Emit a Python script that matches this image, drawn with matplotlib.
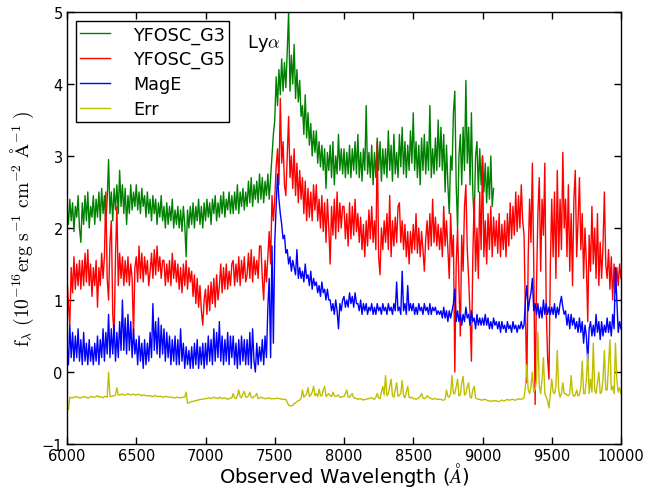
import numpy as np
import matplotlib
matplotlib.use("Agg")
import matplotlib.pyplot as plt

plt.rcParams['mathtext.fontset'] = 'cm'
plt.rcParams['font.family'] = ['DejaVu Sans']

wl_start, wl_step = 6000, 10

# rows: 100 A each (10 samples)
g3 = [
    2.3, 2.05, 2.4, 2.1, 2.35, 1.95, 2.3, 2.15, 2.45, 2.0,
    1.8, 2.35, 2.05, 2.45, 2.1, 2.5, 2.0, 2.3, 2.15, 2.45,
    2.05, 2.4, 2.15, 2.5, 2.1, 2.55, 2.2, 2.45, 2.05, 2.4,
    2.95, 2.2, 2.5, 2.1, 2.55, 2.25, 2.6, 2.2, 2.8, 2.3,
    2.6, 2.2, 2.55, 2.05, 2.45, 2.2, 2.6, 2.25, 2.5, 2.3,
    2.6, 2.25, 2.5, 2.2, 2.55, 2.3, 2.45, 2.15, 2.5, 2.2,
    2.4, 2.1, 2.45, 2.2, 2.4, 2.05, 2.35, 2.15, 2.45, 2.1,
    2.3, 2.0, 2.35, 2.05, 2.3, 2.1, 2.4, 2.0, 2.25, 2.05,
    2.3, 2.0, 2.25, 1.95, 2.3, 2.05, 1.6, 2.25, 2.0, 2.3,
    2.05, 2.35, 2.0, 2.3, 2.1, 2.4, 2.05, 2.3, 2.0, 2.35,
    2.1, 2.4, 2.15, 2.35, 2.05, 2.4, 2.2, 2.45, 2.1, 2.35,
    2.15, 2.45, 2.2, 2.5, 2.15, 2.4, 2.25, 2.5, 2.2, 2.45,
    2.2, 2.5, 2.25, 2.6, 2.2, 2.5, 2.3, 2.55, 2.25, 2.5,
    2.3, 2.65, 2.35, 2.7, 2.3, 2.6, 2.4, 2.65, 2.35, 2.75,
    2.4, 2.7, 2.35, 2.65, 2.45, 2.75, 2.4, 2.7, 3.0, 3.3,
    3.5, 4.1, 3.7, 4.2, 3.85, 4.35, 3.9, 4.3, 3.95, 4.45,
    5.0, 3.9, 4.4, 4.0, 4.55, 3.8, 4.2, 3.75, 4.05, 3.55,
    3.7, 3.3, 3.85, 3.25, 3.6, 3.15, 3.45, 3.0, 3.35, 3.05,
    3.35, 2.9, 3.2, 2.85, 3.15, 2.8, 3.1, 2.55, 3.05, 2.8,
    3.15, 2.7, 3.2, 2.6, 3.0, 2.75, 3.3, 2.8, 3.1, 2.75,
    3.1, 2.7, 3.05, 2.75, 3.15, 2.7, 3.1, 2.8, 3.2, 2.75,
    3.3, 2.7, 3.05, 2.65, 3.1, 2.8, 3.7, 2.75, 3.05, 2.7,
    3.15, 2.6, 3.05, 2.7, 3.25, 2.8, 3.2, 2.65, 3.1, 2.75,
    3.1, 2.7, 3.35, 2.8, 3.15, 2.65, 3.3, 2.75, 3.05, 2.7,
    3.3, 2.85, 3.4, 2.75, 3.2, 2.7, 3.15, 2.8, 3.35, 2.9,
    3.6, 2.8, 3.2, 2.7, 3.15, 2.6, 3.25, 2.8, 3.3, 2.75,
    3.2, 2.8, 3.7, 2.7, 3.1, 2.75, 3.25, 2.8, 3.5, 2.85,
    3.4, 2.8, 3.3, 2.5, 3.15, 2.6, 2.2, 3.0, 2.8, 3.6,
    3.9, 2.6, 2.0, 3.0, 3.3, 2.6, 3.4, 2.8, 4.05, 2.9,
    3.4, 2.6, 3.6, 2.5, 2.1, 3.0, 3.2, 2.5, 3.1, 2.6,
    3.0, 2.5, 2.9, 2.35, 2.85, 2.4, 3.0, 2.3, 2.55,
]

g5 = [
    1.3, 0.95, 0.65, 1.45, 1.1, 1.6, 1.15, 1.5, 1.2, 1.55,
    1.15, 1.55, 1.2, 1.65, 1.25, 1.7, 1.2, 1.5, 1.05, 1.45,
    1.2, 1.55, 0.9, 1.45, 1.2, 1.65, 1.3, 1.6, 2.5, 1.3,
    1.0, 1.8, 2.1, 0.8, 0.5, 1.6, 2.3, 1.2, 1.65, 1.3,
    1.6, 1.2, 1.55, 1.25, 1.6, 1.2, 1.5, 1.3, 0.5, 1.45,
    1.6, 1.25, 1.75, 1.3, 1.65, 1.25, 1.6, 1.35, 1.55, 1.2,
    1.4, 1.65, 1.3, 1.7, 1.35, 1.75, 1.4, 1.6, 1.3, 1.55,
    1.55, 1.2, 1.5, 1.25, 1.55, 1.2, 1.65, 1.3, 1.55, 1.25,
    1.5, 1.15, 1.45, 1.1, 1.5, 1.2, 1.55, 1.15, 1.45, 1.25,
    1.4, 1.05, 1.35, 0.95, 1.3, 0.9, 1.2, 0.85, 0.65, 1.0,
    1.15, 0.8, 1.2, 0.85, 1.25, 0.95, 1.3, 0.9, 1.35, 1.0,
    1.2, 1.5, 1.1, 1.45, 1.15, 1.5, 1.15, 1.4, 1.2, 1.5,
    1.55, 1.2, 1.5, 1.25, 1.6, 1.2, 1.55, 1.3, 1.6, 1.25,
    1.35, 1.65, 1.3, 1.7, 1.25, 1.6, 1.35, 1.55, 1.3, 1.75,
    1.75, 1.3, 1.0, 1.55, 1.25, 1.6, 1.95, 1.5, 2.45, 2.1,
    2.4, 2.85, 3.1, 2.6, 3.8, 2.9, 3.2, 2.6, 2.45, 3.0,
    3.55, 2.7, 3.0, 2.55, 3.1, 2.45, 2.9, 2.35, 2.8, 2.4,
    2.7, 2.2, 2.65, 2.1, 2.55, 2.15, 2.5, 2.1, 2.6, 2.25,
    2.6, 2.1, 2.4, 2.0, 2.45, 1.95, 2.35, 1.8, 2.4, 2.0,
    1.5, 2.3, 1.9, 2.4, 1.85, 2.5, 1.95, 2.35, 2.0, 2.3,
    2.3, 1.85, 2.2, 1.75, 2.35, 1.85, 2.3, 1.9, 2.4, 1.95,
    2.2, 1.8, 2.15, 1.7, 2.05, 1.6, 2.1, 1.75, 2.25, 1.85,
    2.3, 1.8, 2.1, 1.7, 3.2, 1.6, 1.35, 2.0, 1.7, 2.1,
    1.8, 2.2, 1.7, 2.45, 1.6, 2.1, 1.75, 2.15, 1.8, 2.3,
    2.35, 1.8, 2.1, 1.7, 2.05, 1.6, 1.95, 1.5, 1.95, 1.65,
    2.05, 1.7, 2.2, 1.65, 2.0, 1.6, 1.95, 1.7, 1.4, 1.85,
    2.1, 1.7, 2.2, 1.75, 2.4, 1.8, 2.15, 1.75, 2.05, 1.7,
    2.0, 1.6, 2.3, 1.75, 2.1, 1.7, 1.3, 2.2, 1.6, 1.9,
    0.0, 1.5, 2.0, 1.2, 0.5, 1.9, 1.4, 2.3, 2.6, 1.7,
    1.3, 0.8, 0.15, 1.6, 2.4, 1.4, 2.0, 1.3, 2.5, 1.7,
    3.0, 1.6, 2.1, 1.5, 2.2, 1.7, 2.3, 1.6, 2.15, 1.75,
    2.1, 1.65, 2.2, 1.6, 2.05, 1.7, 2.1, 1.6, 2.2, 1.75,
    2.35, 1.85, 2.3, 1.9, 2.5, 1.95, 2.45, 2.0, 2.6, 2.1,
    1.9, 0.8, -0.15, 1.6, 2.4, 1.8, 2.9, 1.5, -0.45, 1.2,
    2.2, 2.7, 1.4, 2.4, 1.9, 2.9, 0.9, 0.2, -0.1, 1.5,
    2.4, 1.6, 2.5, 1.3, 2.8, 1.6, 2.4, 1.7, 3.05, 2.0,
    2.4, 1.6, 2.6, 1.4, 2.2, 1.2, 2.4, 2.8, 1.6, 2.1,
    2.7, 1.7, 2.2, 1.3, 2.0, 1.5, 0.7, 1.9, 1.4, 2.3,
    1.5, 2.0, 1.3, 2.2, 1.2, 1.8, 1.3, 1.75, 2.5, 1.5,
    1.3, 1.7, 1.15, 1.6, 1.0, 1.5, 1.1, 1.45, 1.2, 1.5,
    1.3,
]

mage = [
    0.35, 0.1, 0.65, 0.2, 0.55, 0.15, 0.5, 0.2, 0.6, 0.15,
    0.45, 0.1, 0.55, 0.15, 0.4, 0.1, 0.45, 0.15, 0.35, 0.1,
    0.4, 0.15, 0.5, 0.1, 0.45, 0.2, 0.6, 0.15, 0.55, 0.25,
    0.8, 0.2, 0.6, 0.25, 0.65, 0.15, 0.55, 0.2, 0.7, 0.3,
    1.0, 0.3, 0.75, 0.25, 0.8, 0.3, 0.7, 0.2, 0.6, 0.25,
    0.45, 0.1, 0.5, 0.15, 0.4, 0.05, 0.45, 0.1, 0.4, 0.15,
    0.55, 0.2, 0.95, 0.3, 0.7, 0.25, 0.75, 0.2, 0.65, 0.25,
    0.6, 0.15, 0.55, 0.2, 0.5, 0.1, 0.45, 0.15, 0.5, 0.1,
    0.45, 0.1, 0.6, 0.15, 0.4, 0.05, 0.35, 0.1, 0.3, 0.05,
    0.35, 0.05, 0.4, 0.1, 0.45, 0.05, 0.35, 0.1, 0.4, 0.05,
    0.4, 0.1, 0.5, 0.15, 0.45, 0.1, 0.6, 0.15, 0.55, 0.2,
    0.7, 0.15, 0.5, 0.1, 0.45, 0.15, 0.55, 0.1, 0.5, 0.2,
    0.5, 0.1, 0.4, 0.05, 0.45, 0.1, 0.5, 0.15, 0.45, 0.1,
    0.45, 0.1, 0.55, 0.05, 0.6, 0.15, 0.0, 0.4, 0.1, 0.35,
    0.15, 0.45, 0.1, 0.5, 0.2, 0.9, 1.3, 0.2, 1.75, 0.4,
    1.8, 2.3, 2.75, 2.4, 2.2, 2.05, 1.85, 1.9, 1.65, 1.7,
    1.5, 1.6, 1.4, 1.55, 1.45, 1.35, 1.7, 1.3, 1.45, 1.3,
    1.4, 1.25, 1.5, 1.3, 1.35, 1.2, 1.4, 1.15, 1.3, 1.2,
    1.25, 1.1, 1.2, 1.05, 1.25, 1.1, 1.15, 1.0, 1.15, 1.0,
    1.0, 0.85, 0.95, 0.8, 1.0, 0.85, 0.6, 0.95, 0.85, 1.0,
    1.05, 0.9, 1.0, 0.9, 1.1, 0.95, 1.05, 0.9, 1.1, 0.95,
    0.95, 0.85, 1.0, 0.8, 0.95, 0.85, 0.95, 0.8, 0.9, 0.85,
    0.95, 0.8, 0.9, 0.8, 0.95, 0.85, 0.9, 0.8, 0.95, 0.85,
    0.9, 0.8, 0.95, 0.85, 0.9, 0.8, 0.95, 0.85, 1.25, 0.85,
    0.9, 0.8, 1.4, 0.85, 0.95, 0.8, 1.2, 0.85, 0.95, 0.85,
    0.95, 0.8, 0.9, 0.8, 0.95, 0.85, 0.9, 0.8, 0.95, 0.85,
    0.9, 0.8, 0.95, 0.8, 0.9, 0.85, 0.9, 0.8, 0.85, 0.8,
    0.85, 0.75, 0.9, 0.75, 0.85, 0.7, 0.85, 0.75, 0.85, 0.95,
    1.15, 0.7, 0.85, 0.7, 0.8, 0.65, 0.8, 0.7, 0.9, 0.75,
    0.8, 0.65, 0.85, 0.7, 0.75, 0.6, 0.8, 0.65, 0.75, 0.65,
    0.75, 0.65, 0.8, 0.65, 0.75, 0.6, 0.7, 0.6, 0.75, 0.65,
    0.7, 0.6, 0.7, 0.55, 0.7, 0.6, 0.65, 0.55, 0.7, 0.6,
    0.65, 0.55, 0.7, 0.6, 0.65, 0.55, 0.65, 0.6, 0.7, 0.6,
    0.65, 1.0, 1.2, 0.85, 1.0, 1.1, 1.3, 0.85, 0.95, 0.8,
    0.95, 0.75, 0.9, 0.75, 1.0, 0.8, 0.95, 0.8, 0.9, 0.8,
    0.9, 0.8, 0.95, 0.75, 0.9, 0.8, 0.95, 1.05, 0.9, 0.8,
    0.85, 0.65, 0.8, 0.6, 0.8, 0.65, 0.75, 0.6, 0.7, 0.55,
    0.75, 0.55, 0.7, 0.4, 0.65, 0.5, 0.15, 0.6, 0.7, 0.5,
    0.65, 0.5, 0.8, 0.55, 0.7, 0.45, 0.7, 0.5, 0.65, 0.55,
    0.75, 0.55, 0.7, 0.5, 0.8, 0.6, 1.45, 1.0, 0.55, 0.7,
    0.6,
]

err = [
    -0.52, -0.52, -0.35, -0.36, -0.36, -0.35, -0.34, -0.35, -0.35, -0.36,
    -0.36, -0.35, -0.34, -0.35, -0.35, -0.36, -0.36, -0.34, -0.34, -0.35,
    -0.35, -0.34, -0.33, -0.35, -0.34, -0.35, -0.36, -0.34, -0.34, -0.35,
    0.0, -0.34, -0.34, -0.33, -0.33, -0.32, -0.22, -0.32, -0.32, -0.31,
    -0.31, -0.32, -0.32, -0.31, -0.3, -0.31, -0.32, -0.31, -0.31, -0.32,
    -0.32, -0.31, -0.31, -0.32, -0.33, -0.32, -0.32, -0.33, -0.33, -0.33,
    -0.33, -0.34, -0.34, -0.33, -0.33, -0.34, -0.34, -0.34, -0.34, -0.35,
    -0.35, -0.34, -0.34, -0.35, -0.35, -0.35, -0.35, -0.36, -0.36, -0.35,
    -0.35, -0.36, -0.36, -0.35, -0.35, -0.35, -0.28, -0.43, -0.43, -0.42,
    -0.41, -0.41, -0.4, -0.4, -0.39, -0.39, -0.38, -0.38, -0.38, -0.37,
    -0.37, -0.37, -0.36, -0.36, -0.37, -0.36, -0.35, -0.36, -0.36, -0.37,
    -0.35, -0.36, -0.37, -0.36, -0.36, -0.37, -0.38, -0.37, -0.36, -0.36,
    -0.3, -0.36, -0.37, -0.33, -0.25, -0.34, -0.36, -0.3, -0.27, -0.35,
    -0.35, -0.33, -0.28, -0.35, -0.36, -0.34, -0.33, -0.3, -0.37, -0.36,
    -0.35, -0.36, -0.36, -0.37, -0.37, -0.36, -0.36, -0.37, -0.37, -0.37,
    -0.37, -0.37, -0.36, -0.37, -0.37, -0.38, -0.38, -0.38, -0.38, -0.42,
    -0.46, -0.47, -0.47, -0.46, -0.44, -0.43, -0.41, -0.4, -0.39, -0.37,
    -0.25, -0.35, -0.33, -0.3, -0.22, -0.34, -0.32, -0.28, -0.2, -0.33,
    -0.3, -0.34, -0.24, -0.33, -0.33, -0.25, -0.2, -0.34, -0.32, -0.3,
    -0.33, -0.34, -0.28, -0.33, -0.34, -0.33, -0.32, -0.35, -0.35, -0.34,
    -0.34, -0.3, -0.25, -0.35, -0.35, -0.32, -0.3, -0.36, -0.36, -0.37,
    -0.38, -0.37, -0.37, -0.38, -0.39, -0.38, -0.38, -0.37, -0.37, -0.36,
    -0.36, -0.37, -0.38, -0.35, -0.3, -0.36, -0.37, -0.28, -0.2, -0.32,
    -0.05, -0.33, -0.3, -0.2, -0.1, -0.33, -0.35, -0.25, -0.15, -0.34,
    -0.32, -0.3, -0.12, -0.33, -0.36, -0.28, -0.2, -0.35, -0.36, -0.35,
    -0.37, -0.37, -0.38, -0.37, -0.36, -0.34, -0.3, -0.36, -0.37, -0.36,
    -0.33, -0.35, -0.36, -0.37, -0.38, -0.37, -0.37, -0.38, -0.38, -0.38,
    -0.38, -0.39, -0.39, -0.38, -0.25, -0.34, -0.35, -0.3, -0.05, -0.3,
    -0.3, -0.2, -0.1, -0.33, -0.32, -0.15, -0.06, -0.32, -0.3, -0.2,
    -0.15, -0.35, -0.36, -0.25, -0.2, -0.36, -0.37, -0.38, -0.38, -0.39,
    -0.39, -0.38, -0.38, -0.39, -0.4, -0.4, -0.41, -0.4, -0.4, -0.4,
    -0.4, -0.41, -0.41, -0.4, -0.39, -0.4, -0.4, -0.39, -0.38, -0.39,
    -0.39, -0.38, -0.38, -0.39, -0.39, -0.38, -0.37, -0.38, -0.38, -0.37,
    -0.36, -0.2, 0.1, -0.25, -0.3, -0.2, 0.0, -0.28, -0.25, -0.1,
    0.55, -0.2, -0.3, -0.1, 0.2, -0.3, -0.35, -0.4, -0.5, -0.3,
    -0.1, -0.28, -0.3, -0.2, 0.3, -0.25, -0.35, -0.3, -0.15, -0.3,
    -0.3, -0.32, -0.33, -0.3, -0.05, -0.3, -0.34, -0.32, -0.25, -0.33,
    -0.32, -0.2, 0.15, -0.3, -0.3, -0.1, 0.25, -0.3, -0.1, -0.28,
    0.4, -0.25, -0.3, -0.15, 0.0, -0.3, -0.28, -0.1, 0.3, -0.25,
    -0.25, 0.1, 0.45, -0.25, -0.2, -0.3, 0.4, -0.1, -0.28, -0.22,
    -0.3,
]

labels = ['YFOSC_G3', 'YFOSC_G5', 'MagE', 'Err']
colors = ['g', 'r', 'b', 'y']
series = [g3, g5, mage, err]

xticks = [6000, 6500, 7000, 7500, 8000, 8500, 9000, 9500, 10000]
yticks = [-1, 0, 1, 2, 3, 4, 5]

fig = plt.figure(figsize=(6.47, 4.89), dpi=100)
ax = fig.add_axes([0.1036, 0.09, 0.8562, 0.8834])

for s, c, lab in zip(series, colors, labels):
    wl = wl_start + wl_step * np.arange(len(s))
    ax.plot(wl, s, color=c, lw=1.0, label=lab)

ax.set_xlim(6000, 10000)
ax.set_ylim(-1, 5)
ax.set_xticks(xticks)
ax.set_yticks(yticks)
ax.tick_params(direction='in', top=True, right=True, length=5, width=1,
               labelsize=10.5, pad=3)
for sp in ax.spines.values():
    sp.set_linewidth(1.0)

ax.set_xlabel(r'Observed Wavelength ($\AA$)', fontsize=14, labelpad=-2)
ax.set_ylabel(r'$\mathrm{f_\lambda\ (10^{-16}erg\ s^{-1}\ cm^{-2}\ \AA^{-1}\ )}$',
              fontsize=14, labelpad=4)
ax.text(7300, 4.57, r'Ly$\alpha$', fontsize=13, ha='left', va='center')

leg = ax.legend(loc='upper left', fontsize=12.7, frameon=True, fancybox=False,
                edgecolor='black', framealpha=1, borderaxespad=0.5,
                handlelength=1.7, handletextpad=1.3, labelspacing=0.38,
                borderpad=0.25)
leg.get_frame().set_linewidth(1.0)

fig.savefig('out.png', dpi=100)
